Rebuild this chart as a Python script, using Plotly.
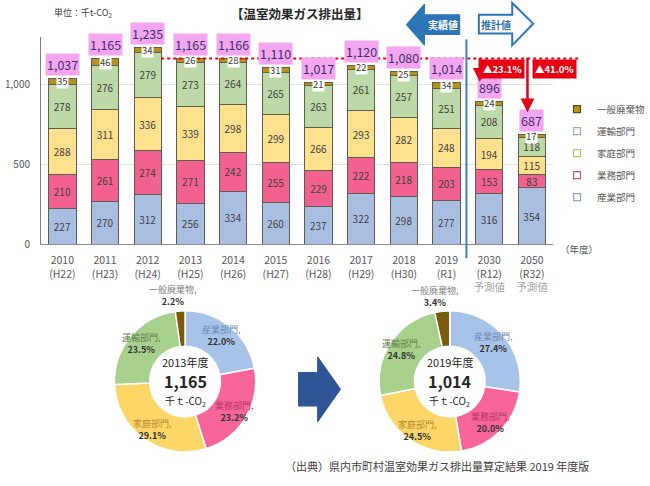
import math
import plotly.graph_objects as go

W, H = 650, 486
def px(x):
    return x / W
def py(y):
    return 1 - y / H

# ---------------- data ----------------
years = ["2010", "2011", "2012", "2013", "2014", "2015", "2016", "2017", "2018", "2019", "2030", "2050"]
wareki = ["(H22)", "(H23)", "(H24)", "(H25)", "(H26)", "(H27)", "(H28)", "(H29)", "(H30)", "(R1)", "(R12)", "(R32)"]
forecast_note = ["", "", "", "", "", "", "", "", "", "", "予測値", "予測値"]

sector_names = ["産業部門", "業務部門", "家庭部門", "運輸部門", "一般廃棄物"]
industry = [227, 270, 312, 256, 334, 260, 237, 322, 298, 277, 316, 354]
business = [210, 261, 274, 271, 242, 255, 229, 222, 218, 203, 153, 83]
household = [288, 311, 336, 339, 298, 299, 266, 293, 282, 248, 194, 115]
transport = [278, 276, 279, 273, 264, 265, 263, 261, 257, 251, 208, 118]
waste = [35, 46, 34, 26, 28, 31, 21, 22, 25, 34, 24, 17]
totals = [1037, 1165, 1235, 1165, 1166, 1110, 1017, 1120, 1080, 1014, 896, 687]

base_total_2013 = 1165
reduction_labels = ["▲23.1%", "▲41.0%"]

pie_titles = ["2013年度", "2019年度"]
pie_totals = ["1,165", "1,014"]
pie2013_pct = [22.0, 23.2, 29.1, 23.5, 2.2]
pie2019_pct = [27.4, 20.0, 24.5, 24.8, 3.4]

# ---------------- styles ----------------
FONT = "Noto Sans CJK JP"
bar_colors = ["#A9BFE2", "#F2618F", "#FEE08D", "#BDD9A7", "#B8911C"]
pie_colors = ["#A7C4E8", "#F7659A", "#FDD668", "#A8D08D", "#7B5A0A"]
name_colors = ["#6F86B5", "#B8376A", "#B58A2C", "#5E7F4A", "#7F7F7F"]
legend_borders = ["#8FA6CC", "#D0507A", "#D8B860", "#98B884", "#5A4A10"]
edge = "#5E5E50"
RED = "#E60012"
BLUE = "#2E75B6"

series = [industry, business, household, transport, waste]

fig = go.Figure()

# stacked bars
for k, (name, vals) in enumerate(zip(sector_names, series)):
    is_waste = (k == 4)
    fig.add_trace(go.Bar(
        x=years, y=vals, name=name,
        marker=dict(color=bar_colors[k], line=dict(color=edge, width=1)),
        text=None if is_waste else [str(v) for v in vals],
        textposition="inside", insidetextanchor="middle", textangle=0,
        textfont=dict(size=10, color="#404040", family=FONT),
        showlegend=False, hoverinfo="skip",
    ))

# legend-only entries (top: 一般廃棄物)
for k in [4, 3, 2, 1, 0]:
    fig.add_trace(go.Scatter(
        x=[None], y=[None], mode="markers", name=sector_names[k],
        legendgroup=sector_names[k],
        marker=dict(symbol="square", size=7,
                    color=bar_colors[k] if k == 4 else "rgba(255,255,255,0.6)",
                    line=dict(color=legend_borders[k], width=1.2)),
        hoverinfo="skip",
    ))

annotations = []
def note(x, y, text, size, color, **kw):
    d = dict(x=px(x), y=py(y), xref="paper", yref="paper", text=text, showarrow=False,
             xanchor="center", yanchor="middle",
             font=dict(size=size, color=color, family=FONT))
    d.update(kw)
    annotations.append(d)

# waste labels (white boxes) and total labels (pink boxes)
for i, yr in enumerate(years):
    base = industry[i] + business[i] + household[i] + transport[i]
    annotations.append(dict(x=i, y=base + waste[i] / 2, xref="x", yref="y", text=str(waste[i]),
                            showarrow=False, bgcolor="white", borderpad=0,
                            xanchor="center", yanchor="middle",
                            font=dict(size=9.5, color="#404040", family=FONT)))
    stack_top = base + waste[i]
    annotations.append(dict(x=i, y=stack_top, xref="x", yref="y", yshift=14,
                            text=f"{totals[i]:,}", showarrow=False, bgcolor="#F4A6F0", borderpad=1,
                            xanchor="center", yanchor="middle",
                            font=dict(size=12.5, color="#3F2D6E", family=FONT)))

# tick labels
ticktext = []
for y, w, n in zip(years, wareki, forecast_note):
    t = f"{y}<br>{w}"
    if n:
        t += f"<br><span style='color:#A6A6A6'>{n}</span>"
    ticktext.append(t)

shapes = []
# 2013 level dotted line
shapes.append(dict(type="line", xref="paper", yref="y", x0=px(169), x1=px(607),
                   y0=base_total_2013, y1=base_total_2013,
                   line=dict(color=RED, width=2, dash="dot")))
# divider line
shapes.append(dict(type="line", xref="paper", yref="paper", x0=px(489), x1=px(489),
                   y0=py(40), y1=py(262), line=dict(color="#3B7FC4", width=2)))

def path(pts):
    return "M " + " L ".join(f"{px(a):.5f},{py(b):.5f}" for a, b in pts) + " Z"

# 実績値 arrow (left, filled)
shapes.append(dict(type="path", xref="paper", yref="paper",
                   path=path([(482, 15), (445, 15), (445, 4), (426, 25), (445, 46), (445, 35), (482, 35)]),
                   fillcolor=BLUE, line=dict(color=BLUE, width=1)))
# 推計値 arrow (right, outline)
shapes.append(dict(type="path", xref="paper", yref="paper",
                   path=path([(502, 15), (537, 15), (537, 3), (559, 24), (537, 46), (537, 34), (502, 34)]),
                   fillcolor="white", line=dict(color=BLUE, width=2)))
# big arrow between donuts
shapes.append(dict(type="path", xref="paper", yref="paper",
                   path=path([(313, 378), (333, 378), (333, 362), (357, 395), (333, 428), (333, 412), (313, 412)]),
                   fillcolor="#2F5597", line=dict(color="#2F5597", width=1)))

# arrow texts
note(464, 25, "<b>実績値</b>", 10, "white")
note(520, 25, "<b>推計値</b>", 10, BLUE)

# red reduction arrows
for xpix, ytip, ytail in [(503, 83, 58), (553, 114, 58)]:
    annotations.append(dict(x=px(xpix), y=py(ytip), xref="paper", yref="paper", text="",
                            showarrow=True, ax=0, ay=-(ytip - ytail), arrowhead=2, arrowsize=1.1,
                            arrowwidth=2.5, arrowcolor=RED, standoff=0))
for xpix, lab in zip([527, 581], reduction_labels):
    note(xpix, 70, f"<b>{lab}</b>", 9.5, "white", bgcolor=RED, borderpad=2)

# titles / notes
note(314, 14, "<b>【温室効果ガス排出量】</b>", 12.5, "#262626")
note(87, 13, "単位：千t-CO<sub>2</sub>", 9, "#404040")
note(607, 253, "（年度）", 9.5, "#595959")
note(458, 473, "（出典）県内市町村温室効果ガス排出量算定結果 2019 年度版", 11, "#404040")

# donuts
pie_centers = [(194, 387), (471.5, 387)]
R = 74
for pi, (pct, (cx, cy)) in enumerate(zip([pie2013_pct, pie2019_pct], pie_centers)):
    fig.add_trace(go.Pie(
        values=pct, labels=sector_names, sort=False, direction="clockwise", rotation=0,
        hole=0.5, marker=dict(colors=pie_colors, line=dict(color="white", width=1.5)),
        textinfo="none",
        domain=dict(x=[px(cx - R), px(cx + R)], y=[py(cy + R), py(cy - R)]),
        showlegend=False, hoverinfo="skip",
    ))
    # slice labels placed at each slice's mid-angle
    total = sum(pct)
    cum = 0.0
    for k, (n, v) in enumerate(zip(sector_names, pct)):
        mid = math.radians(360 * (cum + v / 2) / total)
        cum += v
        if k == 4:
            lx = cx + (R + 16) * math.sin(mid) - 6
            ly = cy - (R + 13) * math.cos(mid)
            label_color = "#7F7F7F"
        else:
            lx = cx + 60 * math.sin(mid)
            ly = cy - 60 * math.cos(mid)
            label_color = name_colors[k]
        note(lx, ly, f"<span style='color:{label_color}'>{n},</span><br><b>{v:.1f}%</b>",
             9, "#333333")
    note(cx, cy - 20, pie_titles[pi], 11, "#262626")
    note(cx, cy, f"<b>{pie_totals[pi]}</b>", 16, "#262626")
    note(cx, cy + 20, "千ｔ-CO<sub>2</sub>", 10, "#262626")

fig.update_layout(
    width=W, height=H, margin=dict(l=0, r=0, t=0, b=0),
    paper_bgcolor="white", plot_bgcolor="white",
    barmode="stack", bargap=0.36,
    font=dict(family=FONT, color="#404040"),
    uniformtext=dict(minsize=10, mode="show"),
    xaxis=dict(domain=[px(43), px(580)], type="category", range=[-0.5, 11.5],
               tickmode="array", tickvals=years, ticktext=ticktext,
               tickfont=dict(size=10.5, color="#595959", family=FONT),
               ticklabelstandoff=6,
               showline=True, linecolor="#8C8C8C", linewidth=1, ticks="", showgrid=False,
               fixedrange=True),
    yaxis=dict(domain=[py(248), py(248 - 1300 * 0.162)], range=[0, 1300],
               tickvals=[0, 500, 1000], tickformat=",",
               tickfont=dict(size=10, color="#595959", family=FONT),
               showline=True, linecolor="#7F7F7F", linewidth=1, ticks="",
               ticklabelstandoff=8,
               showgrid=True, gridcolor="#E3E3E3", zeroline=False),
    legend=dict(x=px(584), y=py(96), xanchor="left", yanchor="top", tracegroupgap=3,
                font=dict(size=9.5, color="#595959", family=FONT), bgcolor="rgba(0,0,0,0)",
                itemwidth=30),
    shapes=shapes, annotations=annotations,
)

fig.write_html("out.html")
